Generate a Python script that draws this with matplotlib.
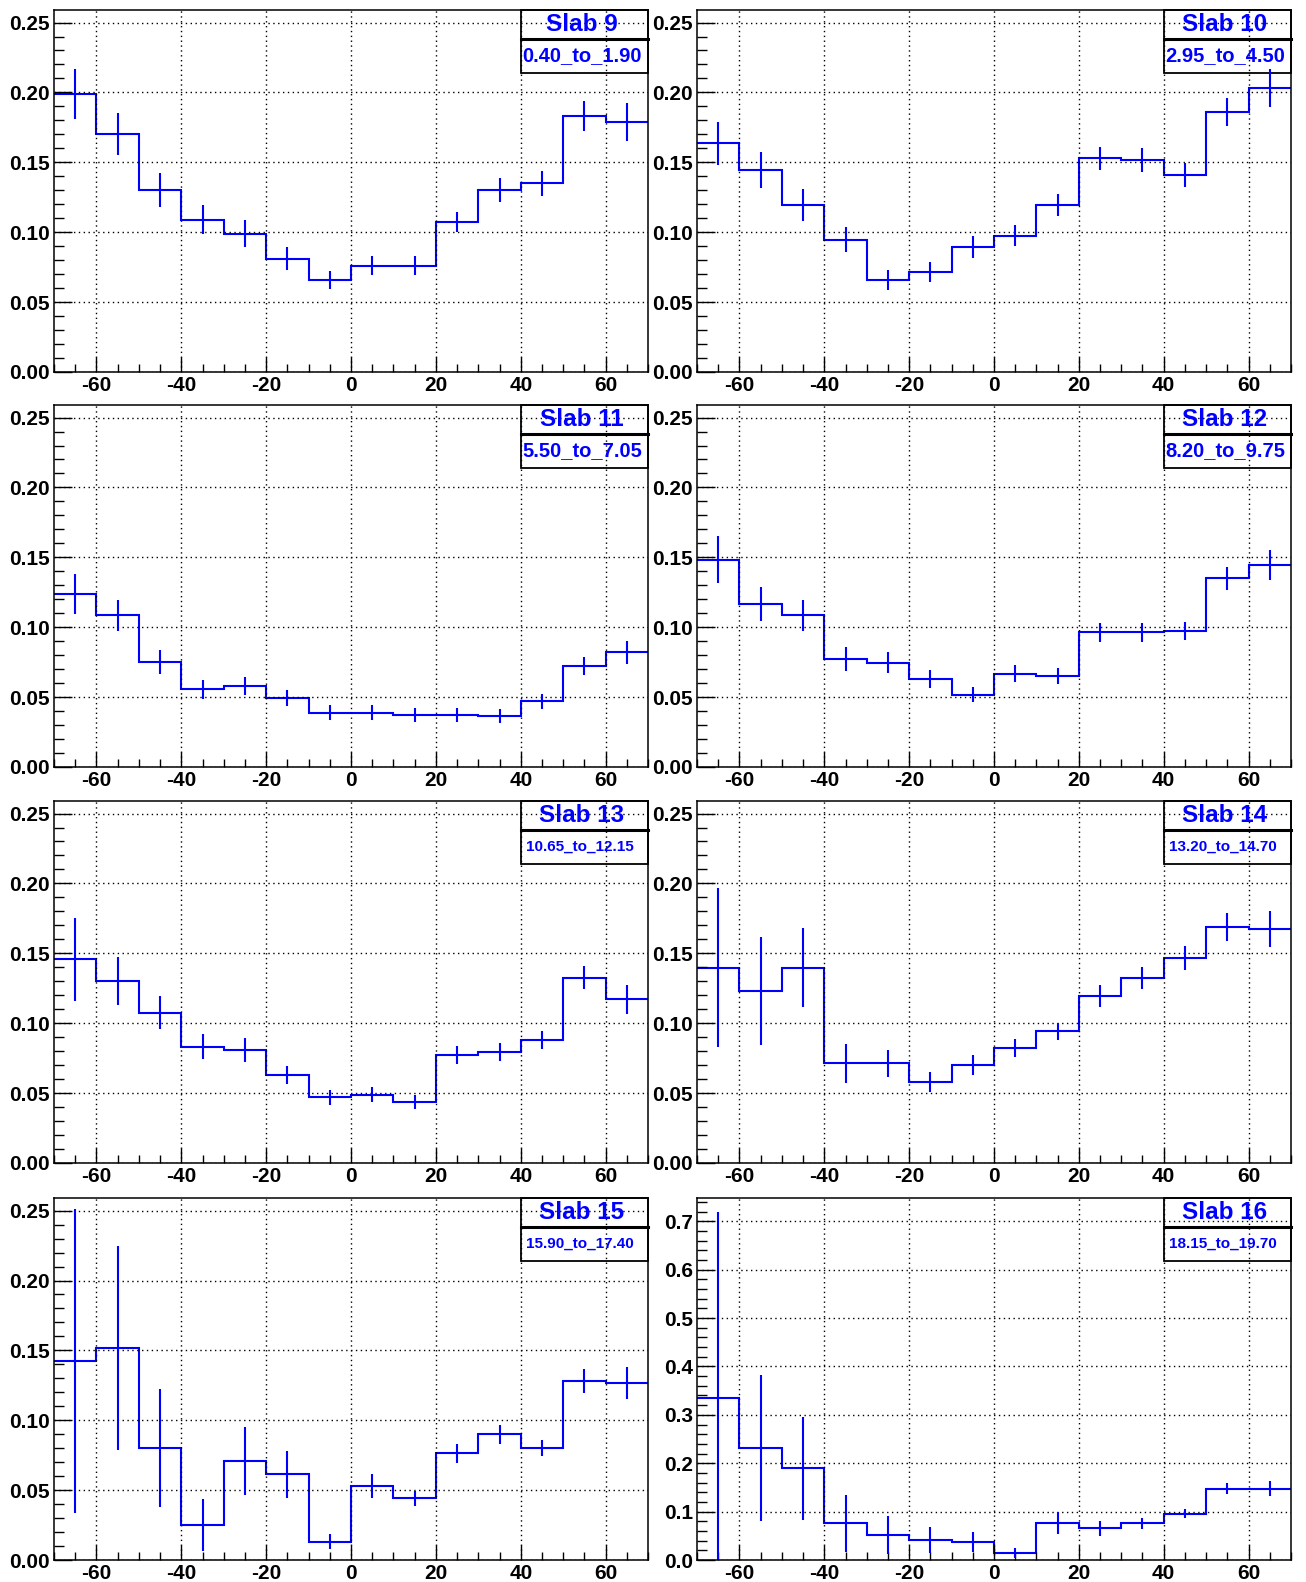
import numpy as np
import matplotlib
matplotlib.use("Agg")
import matplotlib.pyplot as plt
from matplotlib.patches import Rectangle
from matplotlib.ticker import MultipleLocator, FormatStrFormatter

plt.rcParams['font.family'] = ['Liberation Sans', 'DejaVu Sans']
plt.rcParams['font.weight'] = 'bold'
plt.rcParams['axes.unicode_minus'] = False

# bin edges shared by all slabs
edges = np.arange(-70, 71, 10)
centers = edges[:-1] + 5

slabs = [9, 10, 11, 12, 13, 14, 15, 16]
ranges = ["0.40_to_1.90", "2.95_to_4.50", "5.50_to_7.05", "8.20_to_9.75",
          "10.65_to_12.15", "13.20_to_14.70", "15.90_to_17.40", "18.15_to_19.70"]

slab9_vals = [0.199, 0.170, 0.130, 0.109, 0.099, 0.081, 0.0655, 0.076, 0.076, 0.1075, 0.130, 0.135, 0.183, 0.179]
slab9_errs = [0.018, 0.015, 0.012, 0.0105, 0.0095, 0.0083, 0.0065, 0.0067, 0.0067, 0.0071, 0.0085, 0.0088, 0.0107, 0.0137]

slab10_vals = [0.1636, 0.1445, 0.1193, 0.0945, 0.0655, 0.0714, 0.0893, 0.0976, 0.1193, 0.1529, 0.1517, 0.1407, 0.1862, 0.2031]
slab10_errs = [0.0155, 0.0131, 0.0114, 0.0089, 0.0071, 0.0071, 0.0077, 0.0077, 0.0077, 0.0082, 0.0083, 0.0085, 0.0101, 0.0137]

slab11_vals = [0.1239, 0.1084, 0.075, 0.0556, 0.0578, 0.0494, 0.0387, 0.0387, 0.0372, 0.0372, 0.0363, 0.047, 0.0723, 0.0819]
slab11_errs = [0.0141, 0.0111, 0.0086, 0.0068, 0.0064, 0.006, 0.0054, 0.0054, 0.0053, 0.0053, 0.005, 0.0054, 0.0063, 0.0085]

slab12_vals = [0.1483, 0.1168, 0.1084, 0.0771, 0.0747, 0.0628, 0.0518, 0.0666, 0.0649, 0.0965, 0.0965, 0.0974, 0.1349, 0.1445]
slab12_errs = [0.0167, 0.0123, 0.0111, 0.0086, 0.0078, 0.0064, 0.0056, 0.006, 0.0056, 0.0068, 0.0068, 0.0064, 0.0081, 0.011]

slab13_vals = [0.1457, 0.1304, 0.1074, 0.0833, 0.0809, 0.063, 0.047, 0.0487, 0.0437, 0.0771, 0.0795, 0.0881, 0.1325, 0.117]
slab13_errs = [0.0297, 0.0173, 0.0117, 0.0087, 0.0084, 0.0064, 0.0053, 0.0053, 0.0051, 0.0066, 0.0063, 0.0063, 0.0082, 0.0106]

slab14_vals = [0.1397, 0.123, 0.1397, 0.0712, 0.0712, 0.058, 0.070, 0.0821, 0.0941, 0.1194, 0.1325, 0.1468, 0.1688, 0.1674]
slab14_errs = [0.0568, 0.0384, 0.0283, 0.0138, 0.0096, 0.0074, 0.0072, 0.0066, 0.0063, 0.0078, 0.0079, 0.0084, 0.0101, 0.013]

slab15_vals = [0.1424, 0.1519, 0.0802, 0.025, 0.0707, 0.0612, 0.0131, 0.0529, 0.0443, 0.0764, 0.090, 0.0802, 0.1281, 0.1267]
slab15_errs = [0.1088, 0.073, 0.0425, 0.0183, 0.0244, 0.0167, 0.0054, 0.0083, 0.0054, 0.0067, 0.0067, 0.0058, 0.0085, 0.0113]

slab16_vals = [0.335, 0.2313, 0.1894, 0.0755, 0.0515, 0.0412, 0.0377, 0.0137, 0.0755, 0.0652, 0.0755, 0.0961, 0.1476, 0.1476]
slab16_errs = [0.385, 0.150, 0.1057, 0.0583, 0.040, 0.0275, 0.0206, 0.0103, 0.0227, 0.0154, 0.012, 0.0103, 0.012, 0.0154]

all_vals = [slab9_vals, slab10_vals, slab11_vals, slab12_vals,
            slab13_vals, slab14_vals, slab15_vals, slab16_vals]
all_errs = [slab9_errs, slab10_errs, slab11_errs, slab12_errs,
            slab13_errs, slab14_errs, slab15_errs, slab16_errs]

blue = '#0000ff'
fig = plt.figure(figsize=(13.06, 15.82), dpi=100)

lefts = [0.0414, 0.5337]
bottoms = [0.7649, 0.5152, 0.2649, 0.0139]
w, h = 0.4548, 0.2288

for i, slab in enumerate(slabs):
    ax = fig.add_axes([lefts[i % 2], bottoms[i // 2], w, h])
    vals = np.array(all_vals[i])
    errs = np.array(all_errs[i])
    ax.stairs(vals, edges, baseline=None, color=blue, lw=1.5)
    ax.errorbar(centers, vals, yerr=errs, fmt='none', ecolor=blue, elinewidth=1.5, capsize=0)

    ax.set_xlim(-70, 70)
    if slab == 16:
        ax.set_ylim(0, 0.748)
        ax.yaxis.set_major_locator(MultipleLocator(0.1))
        ax.yaxis.set_minor_locator(MultipleLocator(0.02))
        ax.yaxis.set_major_formatter(FormatStrFormatter('%.1f'))
    else:
        ax.set_ylim(0, 0.259)
        ax.yaxis.set_major_locator(MultipleLocator(0.05))
        ax.yaxis.set_minor_locator(MultipleLocator(0.01))
        ax.yaxis.set_major_formatter(FormatStrFormatter('%.2f'))
    ax.xaxis.set_major_locator(MultipleLocator(20))
    ax.xaxis.set_minor_locator(MultipleLocator(5))

    ax.grid(True, which='major', color='black', linestyle=(0, (1, 2.5)), lw=1.0)
    ax.tick_params(axis='x', which='major', direction='in', length=11, width=1,
                   labelsize=15, pad=3, top=False)
    ax.tick_params(axis='x', which='minor', direction='in', length=6, width=1, top=False)
    ax.tick_params(axis='y', which='major', direction='in', length=13, width=1,
                   labelsize=15, pad=3, right=False)
    ax.tick_params(axis='y', which='minor', direction='in', length=7, width=1, right=False)
    for lab in ax.get_xticklabels() + ax.get_yticklabels():
        lab.set_fontweight('bold')
    for sp in ax.spines.values():
        sp.set_linewidth(1.1)

    # title/range box in the top right corner
    x0, y_div, y_bot = 0.786, 0.92, 0.826
    ax.add_patch(Rectangle((x0, y_bot), 1 - x0, 1 - y_bot, transform=ax.transAxes,
                           fill=False, ec='black', lw=1.3, clip_on=False))
    ax.plot([x0, 1], [y_div, y_div], transform=ax.transAxes, color='black', lw=2.2,
            clip_on=False)
    ax.text((x0 + 1) / 2 - 0.005, (1 + y_div) / 2, f"Slab {slab}", transform=ax.transAxes,
            ha='center', va='center', color=blue, fontsize=17.5, fontweight='bold')
    small = slab >= 13
    ax.text(x0 + (0.008 if small else 0.002), (y_div + y_bot) / 2, ranges[i],
            transform=ax.transAxes, ha='left', va='center', color=blue,
            fontsize=11 if small else 14.5, fontweight='bold')

fig.savefig('out.png', dpi=100)
